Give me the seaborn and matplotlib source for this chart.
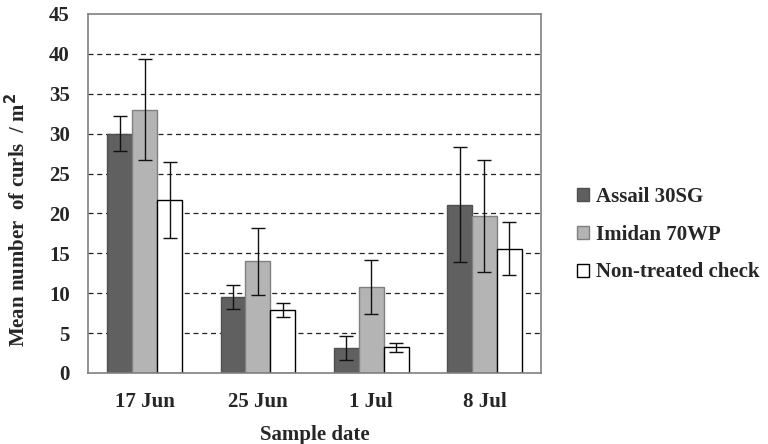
import numpy as np
import pandas as pd
import matplotlib
matplotlib.use("Agg")
import matplotlib.pyplot as plt
import seaborn as sns

dates = ["17 Jun", "25 Jun", "1 Jul", "8 Jul"]
treatments = ["Assail 30SG", "Imidan 70WP", "Non-treated check"]
assail = [30.0, 9.5, 3.1, 21.1]
imidan = [33.0, 14.0, 10.8, 19.7]
check = [21.7, 7.9, 3.2, 15.6]
assail_err = [2.2, 1.5, 1.5, 7.2]
imidan_err = [6.3, 4.2, 3.4, 7.0]
check_err = [4.8, 0.9, 0.55, 3.3]
y_ticks = [0, 5, 10, 15, 20, 25, 30, 35, 40, 45]

colors = ["#606060", "#b4b4b4", "#ffffff"]
edges = ["#505050", "#808080", "#000000"]

rows = []
for t, vals, errs in zip(treatments, [assail, imidan, check], [assail_err, imidan_err, check_err]):
    for d, v, e in zip(dates, vals, errs):
        rows.append({"date": d, "treatment": t, "value": v, "err": e})
df = pd.DataFrame(rows)

sns.set_style("white")
plt.rcParams["font.family"] = ["Liberation Serif", "DejaVu Serif"]
plt.rcParams["font.weight"] = "bold"
FS = 15

fig = plt.figure(figsize=(7.68, 4.44), dpi=100)
ax = fig.add_axes([0.1146, 0.16, 0.59, 0.8085])

sns.barplot(data=df, x="date", y="value", hue="treatment", order=dates,
            hue_order=treatments, palette=colors, width=0.66, errorbar=None,
            ax=ax, saturation=1, legend=True)

# style bars and add error bars
bar_containers = list(ax.containers)
for i, cont in enumerate(bar_containers):
    t = treatments[i]
    sub = df[df.treatment == t].set_index("date").loc[dates]
    for bar in cont:
        bar.set_edgecolor(edges[i])
        bar.set_linewidth(1.0)
    xs = [b.get_x() + b.get_width() / 2 for b in cont]
    ax.errorbar(xs, sub["value"].values, yerr=sub["err"].values, fmt="none",
                ecolor="#111111", elinewidth=1.0, capsize=5, capthick=1.0, zorder=5)

ax.set_ylim(0, 45)
ax.set_yticks(y_ticks)
ax.set_yticklabels([str(v) for v in y_ticks], fontsize=FS, fontweight="bold")
ax.set_xlim(-0.5, len(dates) - 0.5)
ax.set_xticks(range(len(dates)))
ax.set_xticklabels(dates, fontsize=FS, fontweight="bold")
ax.tick_params(axis="x", length=0, pad=14)
ax.set_xticks(np.arange(-0.5, len(dates)), minor=True)
ax.tick_params(axis="x", which="minor", length=6, direction="out", color="#808080", width=1)
ax.tick_params(axis="y", length=6, direction="out", color="#808080", width=1, pad=7)

for y in y_ticks[1:-1]:
    ax.axhline(y, color="#222222", linestyle=(0, (4, 3)), linewidth=0.9, zorder=0)
ax.set_axisbelow(True)

for s in ax.spines.values():
    s.set_visible(True)
    s.set_color("#808080")
    s.set_linewidth(1.2)

ax.set_xlabel("Sample date", fontsize=FS, fontweight="bold", labelpad=9)
ax.set_ylabel("Mean number  of curls  / m$^\\mathbf{2}$", fontsize=FS, fontweight="bold")
ax.yaxis.set_label_coords(-0.127, 0.426)

handles, labels = ax.get_legend_handles_labels()
for h, ec in zip(handles, edges):
    h.set_edgecolor(ec)
    h.set_linewidth(1.0)
ax.legend(handles, labels, loc="center left", bbox_to_anchor=(1.037, 0.385), frameon=False,
          prop={"family": "Liberation Serif", "weight": "bold", "size": FS},
          handlelength=0.6, handleheight=0.6, handletextpad=0.35, labelspacing=0.85)

fig.savefig("out.png", dpi=100)
